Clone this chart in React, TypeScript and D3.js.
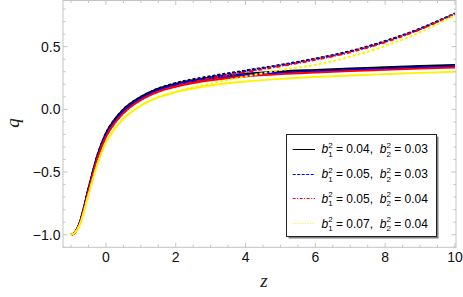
import { scaleLinear, line, curveMonotoneX, format, range } from "d3"
import { useEffect } from "react"

const W = 463
const H = 297

// sample points along z
const zs = [-1, -0.9, -0.75, -0.5, -0.25, 0, 0.25, 0.5, 1, 1.5, 2, 3, 4, 5, 6, 7, 8, 9, 10]

// lower (solid) branch
const qBlackLow = [-1, -0.985, -0.9, -0.63, -0.37, -0.19, -0.08, 0.0, 0.1, 0.165, 0.205, 0.255, 0.285, 0.303, 0.315, 0.326, 0.336, 0.346, 0.355]
const qBlueLow = [-1, -0.985, -0.905, -0.64, -0.385, -0.205, -0.095, -0.015, 0.088, 0.153, 0.193, 0.244, 0.274, 0.292, 0.304, 0.315, 0.325, 0.335, 0.344]
const qRedLow = [-1, -0.986, -0.91, -0.655, -0.4, -0.22, -0.11, -0.03, 0.075, 0.14, 0.18, 0.232, 0.262, 0.281, 0.294, 0.305, 0.315, 0.325, 0.334]
const qYellowLow = [-1, -0.987, -0.92, -0.68, -0.44, -0.265, -0.155, -0.075, 0.03, 0.095, 0.137, 0.19, 0.222, 0.243, 0.258, 0.27, 0.281, 0.291, 0.3]

// upper (dashed) branch
const qBlackUp = [-1, -0.985, -0.9, -0.63, -0.37, -0.19, -0.08, 0.0, 0.1, 0.167, 0.21, 0.265, 0.31, 0.355, 0.405, 0.465, 0.545, 0.645, 0.766]
const qBlueUp = [-1, -0.985, -0.905, -0.64, -0.385, -0.205, -0.095, -0.015, 0.088, 0.156, 0.2, 0.257, 0.304, 0.35, 0.4, 0.46, 0.54, 0.64, 0.762]
const qRedUp = [-1, -0.986, -0.91, -0.655, -0.4, -0.22, -0.11, -0.03, 0.075, 0.143, 0.187, 0.247, 0.296, 0.344, 0.395, 0.455, 0.535, 0.637, 0.759]
const qYellowUp = [-1, -0.987, -0.92, -0.68, -0.44, -0.265, -0.155, -0.075, 0.03, 0.098, 0.142, 0.205, 0.262, 0.313, 0.355, 0.42, 0.505, 0.615, 0.75]

const b1Labels = ["0.04", "0.05", "0.05", "0.07"]
const b2Labels = ["0.03", "0.03", "0.04", "0.04"]

const xMajor = [0, 2, 4, 6, 8, 10]
const yMajor = [-1, -0.5, 0, 0.5]

const series = [
  { color: "#000000", low: qBlackLow, up: qBlackUp, upDash: "3,2", legendDash: null },
  { color: "#0000ff", low: qBlueLow, up: qBlueUp, upDash: "3,2", legendDash: "3,1.5" },
  { color: "#ff0000", low: qRedLow, up: qRedUp, upDash: "4,2,1,2", legendDash: "3,1.5,1,1.5" },
  { color: "#fff200", low: qYellowLow, up: qYellowUp, upDash: "3,2", legendDash: "1,1.5" },
]

const FRAME = "#c4c4c4"

function App() {
  useEffect(() => {
    document.body.style.margin = "0"
  }, [])

  const x = scaleLinear().domain([-1.23, 10.03]).range([63, 456])
  const y = scaleLinear().domain([-1.1, 0.868]).range([247.3, 0.5])
  const [x0, x1] = x.range()
  const [yb, yt] = y.range()

  const path = (vals) =>
    line()
      .x((d, i) => x(zs[i]))
      .y((d) => y(d))
      .curve(curveMonotoneX)(vals)

  const fmt = format(".1f")
  const xMinor = range(-1, 10.01, 0.5)
  const yMinor = range(-1.1, 0.86, 0.1)

  const lgX = 286.5
  const lgY = 134.5
  const lgW = 150
  const lgH = 102

  return (
    <svg width={W} height={H} style={{ display: "block", background: "#fff" }}>
      {/* curves */}
      <g fill="none" strokeWidth={1.9}>
        {series.map((s, i) => (
          <g key={i}>
            <path d={path(s.low)} stroke={s.color} />
            <path d={path(s.up)} stroke={s.color} strokeDasharray={s.upDash} />
          </g>
        ))}
      </g>

      {/* frame */}
      <rect x={x0} y={yt} width={x1 - x0} height={yb - yt} fill="none" stroke={FRAME} strokeWidth={1} />
      <g stroke={FRAME} strokeWidth={1}>
        {xMinor.map((v, i) => {
          const major = xMajor.some((m) => Math.abs(m - v) < 1e-6)
          const len = major ? 4.5 : 2.5
          return (
            <g key={i}>
              <line x1={x(v)} x2={x(v)} y1={yb} y2={yb - len} />
              <line x1={x(v)} x2={x(v)} y1={yt} y2={yt + len} />
            </g>
          )
        })}
        {yMinor.map((v, i) => {
          const major = yMajor.some((m) => Math.abs(m - v) < 1e-6)
          const len = major ? 4.5 : 2.5
          return (
            <g key={i}>
              <line x1={x0} x2={x0 + len} y1={y(v)} y2={y(v)} />
              <line x1={x1} x2={x1 - len} y1={y(v)} y2={y(v)} />
            </g>
          )
        })}
      </g>

      {/* tick labels */}
      <g fontFamily="Liberation Sans, Arial, sans-serif" fontSize={14} fill="#111">
        {xMajor.map((v) => (
          <text key={v} x={x(v)} y={262} textAnchor="middle">
            {v}
          </text>
        ))}
        {yMajor.map((v) => (
          <text key={v} x={60.5} y={y(v) + 5} textAnchor="end">
            {fmt(v)}
          </text>
        ))}
      </g>

      {/* axis titles */}
      <text
        x={19}
        y={123}
        transform="rotate(-90,19,123)"
        textAnchor="middle"
        fontFamily="Liberation Serif, Times New Roman, serif"
        fontStyle="italic"
        fontSize={19}
        fill="#222"
      >
        q
      </text>
      <text
        x={264}
        y={287}
        textAnchor="middle"
        fontFamily="Liberation Serif, Times New Roman, serif"
        fontStyle="italic"
        fontSize={19}
        fill="#222"
      >
        z
      </text>

      {/* legend */}
      <rect x={lgX + 2} y={lgY + 2} width={lgW} height={lgH} fill="#7f7f7f" />
      <rect x={lgX} y={lgY} width={lgW} height={lgH} fill="#fff" stroke="#222" strokeWidth={1} />
      {series.map((s, i) => {
        const cy = 148.7 + i * 24.8
        const ly = Math.round(cy) + 0.5
        return (
          <g key={i}>
            <line x1={292.7} x2={315} y1={ly} y2={ly} stroke={s.color} strokeWidth={1} strokeDasharray={s.legendDash} />
            <text
              x={321.5}
              y={cy + 4.5}
              fontFamily="Liberation Sans, Arial, sans-serif"
              fontSize={12}
              fill="#000"
              style={{ whiteSpace: "pre" }}
            >
              <tspan fontStyle="italic">b</tspan>
              <tspan fontSize={8} dy={-5.5}>2</tspan>
              <tspan fontSize={8} dx={-4.45} dy={9}>1</tspan>
              <tspan dy={-3.5}>{` = ${b1Labels[i]},  `}</tspan>
              <tspan fontStyle="italic">b</tspan>
              <tspan fontSize={8} dy={-5.5}>2</tspan>
              <tspan fontSize={8} dx={-4.45} dy={9}>2</tspan>
              <tspan dy={-3.5}>{` = ${b2Labels[i]}`}</tspan>
            </text>
          </g>
        )
      })}
    </svg>
  )
}

export default App
